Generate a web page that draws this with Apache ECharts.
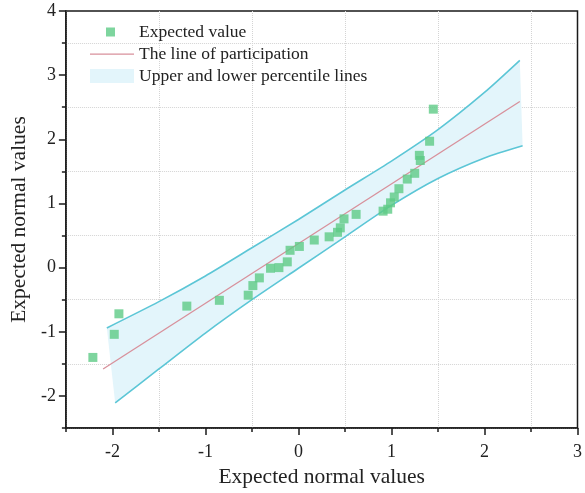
<!DOCTYPE html>
<html>
<head>
<meta charset="utf-8">
<script src="https://cdn.jsdelivr.net/npm/echarts@6/dist/echarts.min.js"></script>
<style>
  html, body { margin: 0; padding: 0; background: #fff; }
  #chart { width: 585px; height: 493px; }
</style>
</head>
<body>
<div id="chart"></div>
<script>
// observed points (x = theoretical quantile, y = sample)
var qqX = [-2.21, -1.98, -1.93, -1.20, -0.85, -0.54, -0.49, -0.42, -0.30, -0.21,
  -0.12, -0.09, 0.01, 0.17, 0.33, 0.42, 0.45, 0.49, 0.62, 0.91,
  0.96, 0.99, 1.03, 1.08, 1.17, 1.25, 1.31, 1.30, 1.41, 1.45]
var qqY = [-1.40, -1.04, -0.72, -0.60, -0.51, -0.43, -0.28, -0.16, -0.01, 0.00,
  0.09, 0.27, 0.33, 0.43, 0.48, 0.55, 0.62, 0.76, 0.83, 0.88,
  0.91, 1.01, 1.10, 1.23, 1.38, 1.47, 1.67, 1.75, 1.97, 2.47]

// reference line
var refX = [-2.10, 2.38]
var refY = [-1.58, 2.59]

// percentile envelope
var upperX = [-2.06, -1.5, -1.0, -0.5, 0.0, 0.5, 1.0, 1.5, 2.0, 2.38]
var upperY = [-0.94, -0.53, -0.13, 0.31, 0.75, 1.21, 1.66, 2.15, 2.73, 3.23]
var lowerX = [-1.97, -1.5, -1.0, -0.5, 0.0, 0.5, 1.0, 1.5, 2.0, 2.41]
var lowerY = [-2.11, -1.58, -1.02, -0.50, -0.01, 0.48, 0.97, 1.39, 1.71, 1.90]

var seriesNames = ['Expected value', 'The line of participation', 'Upper and lower percentile lines']
var axisTitle = 'Expected normal values'

var FONT = 'Liberation Serif'
var BAND_LINE = '#5cc6d6'
var BAND_FILL = '#e3f5fb'
var REF_COLOR = '#d8909b'

function zip(xs, ys) {
  return xs.map(function (x, i) { return [x, ys[i]] })
}

var upperPts = zip(upperX, upperY)
var lowerPts = zip(lowerX, lowerY)
var bandPoly = upperPts.concat(lowerPts.slice().reverse())

var chart = echarts.init(document.getElementById('chart'), null, { renderer: 'canvas' })

var axisBase = {
  type: 'value',
  gridIndex: 0
}

var option = {
  animation: false,
  backgroundColor: '#fff',
  grid: {
    left: 63,
    right: 5,
    top: 11,
    bottom: 64,
    show: true,
    borderColor: '#1a1a1a',
    borderWidth: 1.5
  },
  legend: {
    orient: 'vertical',
    left: 90,
    top: 23,
    padding: 0,
    itemWidth: 44,
    itemHeight: 14,
    itemGap: 4,
    textStyle: { fontFamily: FONT, fontSize: 17.5, color: '#222' },
    data: [
      { name: seriesNames[0], icon: 'path://M0,0M44,14M16,2.5h9v9h-9z' },
      { name: seriesNames[1], icon: 'path://M0,0M44,14M0,6.4h44v1.3h-44z' },
      { name: seriesNames[2], icon: 'rect' }
    ]
  },
  xAxis: [
    Object.assign({}, axisBase, {
      // half steps: minor ticks + dotted grid on the half values
      position: 'bottom',
      min: -2.5,
      max: 3,
      interval: 0.5,
      axisLine: { show: true, onZero: false, lineStyle: { color: '#1a1a1a', width: 1.5 } },
      axisTick: { show: true, length: 4, lineStyle: { color: '#1a1a1a', width: 1.5 } },
      axisLabel: { show: false },
      splitLine: {
        show: true,
        lineStyle: { color: ['#d4d4d4', 'rgba(0,0,0,0)'], type: 'dotted', width: 1 }
      }
    }),
    Object.assign({}, axisBase, {
      position: 'bottom',
      min: -2.5,
      max: 3,
      name: axisTitle,
      nameLocation: 'middle',
      nameGap: 38,
      nameTextStyle: { fontFamily: FONT, fontSize: 21.5, color: '#222' },
      axisLine: { show: false, onZero: false },
      axisTick: { show: true, length: 7, lineStyle: { color: '#1a1a1a', width: 1.5 } },
      axisLabel: {
        showMinLabel: false,
        fontFamily: FONT,
        fontSize: 18,
        color: '#222',
        margin: 15
      },
      splitLine: { show: false }
    })
  ],
  yAxis: [
    Object.assign({}, axisBase, {
      position: 'left',
      min: -2.5,
      max: 4,
      interval: 0.5,
      axisLine: { show: true, onZero: false, lineStyle: { color: '#1a1a1a', width: 1.5 } },
      axisTick: { show: true, length: 4, lineStyle: { color: '#1a1a1a', width: 1.5 } },
      axisLabel: { show: false },
      splitLine: {
        show: true,
        lineStyle: { color: ['#d4d4d4', 'rgba(0,0,0,0)'], type: 'dotted', width: 1 }
      }
    }),
    Object.assign({}, axisBase, {
      position: 'left',
      min: -2.5,
      max: 4,
      name: axisTitle,
      nameLocation: 'middle',
      nameGap: 24,
      nameTextStyle: { fontFamily: FONT, fontSize: 21.5, color: '#222' },
      axisLine: { show: false, onZero: false },
      axisTick: { show: true, length: 7, lineStyle: { color: '#1a1a1a', width: 1.5 } },
      axisLabel: {
        showMinLabel: false,
        fontFamily: FONT,
        fontSize: 18,
        color: '#222',
        margin: 10
      },
      splitLine: { show: false }
    })
  ],
  series: [
    {
      name: seriesNames[2],
      type: 'custom',
      xAxisIndex: 0,
      yAxisIndex: 0,
      color: BAND_FILL,
      itemStyle: { color: BAND_FILL },
      data: bandPoly,
      encode: { x: 0, y: 1 },
      z: 1,
      renderItem: function (params, api) {
        if (params.dataIndex !== 0) return
        var pts = bandPoly.map(function (p) { return api.coord(p) })
        return {
          type: 'polygon',
          shape: { points: pts },
          style: { fill: BAND_FILL }
        }
      }
    },
    {
      name: 'upper',
      type: 'line',
      xAxisIndex: 0,
      yAxisIndex: 0,
      data: upperPts,
      smooth: 0.25,
      symbol: 'none',
      lineStyle: { color: BAND_LINE, width: 1.6 },
      z: 2
    },
    {
      name: 'lower',
      type: 'line',
      xAxisIndex: 0,
      yAxisIndex: 0,
      data: lowerPts,
      smooth: 0.25,
      symbol: 'none',
      lineStyle: { color: BAND_LINE, width: 1.6 },
      z: 2
    },
    {
      name: seriesNames[1],
      type: 'line',
      xAxisIndex: 0,
      yAxisIndex: 0,
      data: zip(refX, refY),
      symbol: 'none',
      color: REF_COLOR,
      lineStyle: { color: REF_COLOR, width: 1.3 },
      z: 3
    },
    {
      name: seriesNames[0],
      type: 'scatter',
      xAxisIndex: 0,
      yAxisIndex: 0,
      data: zip(qqX, qqY),
      symbol: 'rect',
      symbolSize: 9,
      itemStyle: { color: '#5ecb86' },
      z: 4
    }
  ]
}

chart.setOption(option)
</script>
</body>
</html>
